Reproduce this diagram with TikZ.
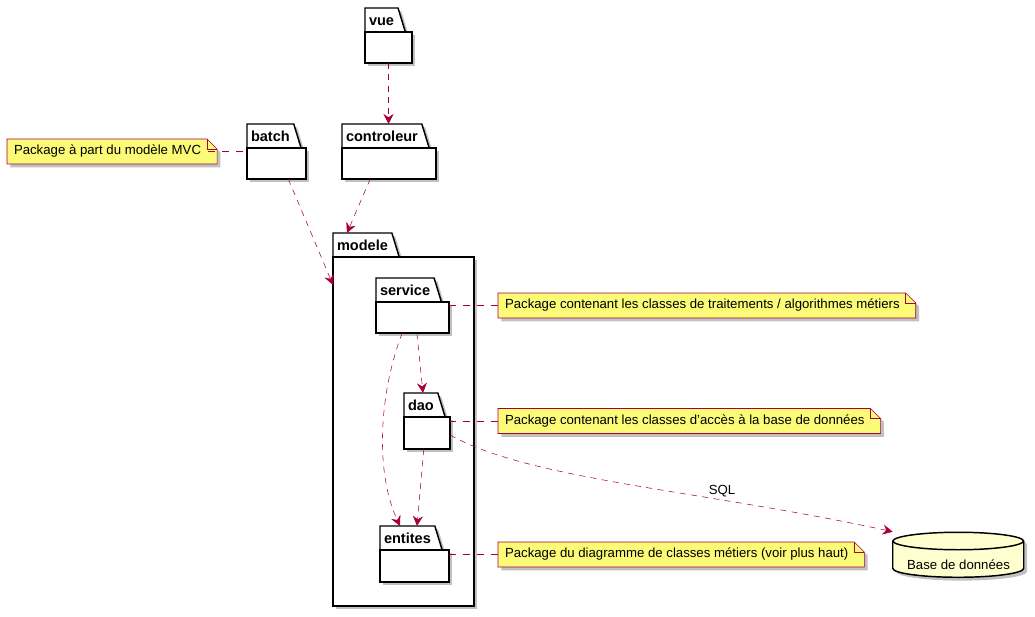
\documentclass[tikz,border=0pt]{standalone}
\usepackage{fontspec}
\setmainfont{Liberation Sans}
\usetikzlibrary{shapes.geometric, calc, arrows.meta, shadows, positioning}

\definecolor{umlred}{HTML}{A80036}
\definecolor{notefill}{HTML}{FBFB77}
\definecolor{dbfill}{HTML}{FEFECE}

\pgfdeclarelayer{background}
\pgfsetlayers{background,main}

\begin{document}
\begin{tikzpicture}[
    x=0.75pt, y=-0.75pt,
    line width=0.75pt,
    umlshadow/.style={drop shadow={shadow xshift=2.5pt, shadow yshift=-2.5pt, opacity=0.35, fill=black!70}},
    pkgtab/.style={trapezium, trapezium left angle=90, trapezium right angle=73,
        draw=black, fill=white, line width=1.1pt,
        text height=9.6pt, text depth=1pt,
        inner xsep=3pt, inner ysep=3.7pt, outer sep=0pt,
        font=\fontsize{10.9}{12}\selectfont\bfseries, umlshadow},
    pkgbody/.style={rectangle, draw=black, fill=white, line width=1.1pt,
        inner sep=0pt, outer sep=0pt, umlshadow},
    dep/.style={umlred, dash pattern=on 4.5pt off 4pt,
        -{Stealth[length=7.5pt, width=7.5pt, inset=2.5pt]}},
    notelink/.style={umlred, dash pattern=on 5.5pt off 5pt},
    notetext/.style={anchor=west, inner xsep=5.25pt, inner ysep=0pt, outer sep=0pt,
        minimum height=18.75pt, font=\fontsize{9.9}{11}\selectfont},
    noteshape/.style={draw=umlred, fill=notefill, line join=miter, umlshadow},
    dbshape/.style={draw=black, fill=dbfill, line width=1.1pt},
    ]

    % Determines the boundries
    \path[use as bounding box] (0,0) rectangle (1035,617);

    % Packages: name / tab bottom left / body width / body height
    \foreach \n/\x/\y/\w/\h in {vue/365/32/47/31, batch/247/148/59/31,
        controleur/342/148/94/31, modele/333/257/141/349,
        service/376/302/73/31, dao/404/417/46/32, entites/380/550/69/32}{
        \node (\n-tab) [pkgtab, anchor=bottom left corner] at (\x,\y) {\n};
        \node (\n) [pkgbody, anchor=north west, minimum width=\w*0.75pt,
            minimum height=\h*0.75pt] at (\n-tab.bottom left corner) {};
    }

    % Notes
    \foreach \n/\x/\y/\p/\a/\b/\t in {
        mvc/7/151.5/batch/east/west/{Package à part du modèle MVC},
        noteservice/498/305.5/service/west/east/{Package contenant les classes de traitements / algorithmes métiers},
        notedao/498/421/dao/west/east/{Package contenant les classes d'accès à la base de données},
        noteentites/498/554.5/entites/west/east/{Package du diagramme de classes métiers (voir plus haut)}}{
        \node (\n) [notetext] at (\x,\y) {\t};
        \begin{pgfonlayer}{background}
            \draw[noteshape] (\n.south west) -- (\n.north west)
                -- ($(\n.north east)+(-1,0)$) -- ($(\n.north east)+(9,10)$)
                -- ($(\n.south east)+(9,0)$) -- cycle;
            \draw[umlred, line join=miter] ($(\n.north east)+(-1,0)$)
                -- ($(\n.north east)+(-1,10)$) -- ($(\n.north east)+(9,10)$);
        \end{pgfonlayer}
        \draw[notelink] (\n.\a) -- (\n.\a -| \p.\b);
    }

    % Database
    \node (db) [minimum width=131*0.75pt, minimum height=45*0.75pt, inner sep=0pt] at (958.5,554.5) {};
    \path (db.north west) ++(0,9) coordinate (dbTL)
          (db.south west) ++(0,-9) coordinate (dbBL);
    \draw[dbshape, umlshadow] (dbTL) -- (dbBL)
        arc[start angle=180, end angle=0, x radius=65.5, y radius=9] -- ++(0,-27)
        arc[start angle=0, end angle=-180, x radius=65.5, y radius=9] -- cycle;
    \draw[line width=1.1pt] (dbTL) arc[start angle=180, end angle=0, x radius=65.5, y radius=9];
    \node (db-text) [font=\fontsize{9.9}{11}\selectfont] at ($(db.center)+(0,10.5)$) {Base de données};

    % Dependencies
    \draw[dep] (vue.south) -- (vue.south |- controleur-tab.north);
    \draw[dep] ($(controleur.south west)!0.3!(controleur.south east)$)
        -- ($(modele-tab.top left corner)+(14,0)$);
    \draw[dep] ($(batch.south west)!0.7!(batch.south east)$)
        -- ($(modele.north west)!0.08!(modele.south west)$);
    \draw[dep] ($(service.south west)!0.56!(service.south east)$)
        -- ($(dao-tab.top left corner)+(19,0)$);
    \draw[dep] ($(service.south west)!0.36!(service.south east)$)
        .. controls (380,390) and (374,470) .. ($(entites-tab.top left corner)+(20,0)$);
    \draw[dep] ($(dao.south west)!0.43!(dao.south east)$)
        -- ($(entites-tab.top left corner)+(37,0)$);
    \draw[dep] ($(dao.north east)!0.56!(dao.south east)$)
        .. controls (530,480) and (700,490) .. (db.north west)
        node[pos=0.69, anchor=south, inner sep=2pt, black,
             font=\fontsize{9.9}{11}\selectfont] (sql) {SQL};

\end{tikzpicture}
\end{document}
